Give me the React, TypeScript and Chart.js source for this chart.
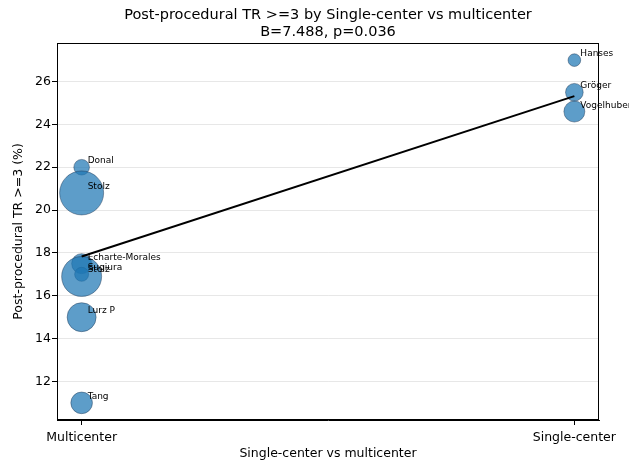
import React, { useEffect, useRef } from "react";
import { Chart, registerables } from "chart.js";

Chart.register(...registerables);

const TITLE_LINES = ["Post-procedural TR >=3 by Single-center vs multicenter", "B=7.488, p=0.036"];
const X_LABEL = "Single-center vs multicenter";
const Y_LABEL = "Post-procedural TR >=3 (%)";
const CATEGORIES = ["Multicenter", "Single-center"];
const STUDIES = ["Donal", "Stolz", "Echarte-Morales", "Sugiura", "Stolz", "Lurz P", "Tang", "Hanses", "Gröger", "Vogelhuber"];
const GROUP = [0, 0, 0, 0, 0, 0, 0, 1, 1, 1];
const TR_VALUES = [22.0, 20.8, 17.5, 17.0, 16.9, 15.0, 11.0, 27.0, 25.5, 24.6];
// relative study weight (bubble area)
const WEIGHTS = [61, 484, 100, 49, 400, 210, 117, 40, 78, 110];
const SLOPE = 7.488;
const INTERCEPT = 17.83;
const Y_TICKS = [12, 14, 16, 18, 20, 22, 24, 26];
const X_TICKS = [0, 1];

const FONT = '"DejaVu Sans", sans-serif';

export default function App() {
  const ref = useRef<HTMLCanvasElement | null>(null);

  useEffect(() => {
    document.body.style.margin = "0";
    const canvas = ref.current;
    if (!canvas) return;

    const labelsPlugin = {
      id: "studyLabels",
      afterDatasetsDraw(chart: any) {
        const ctx = chart.ctx;
        const a = chart.chartArea;
        ctx.save();
        ctx.strokeStyle = "#000";
        ctx.lineWidth = 1;
        ctx.strokeRect(a.left + 0.5, a.top + 0.5, a.right - a.left - 1, a.bottom - a.top - 1);
        const meta = chart.getDatasetMeta(1);
        ctx.fillStyle = "#000";
        ctx.font = `9px ${FONT}`;
        ctx.textAlign = "left";
        ctx.textBaseline = "alphabetic";
        meta.data.forEach((el: any, i: number) => {
          ctx.fillText(STUDIES[i], el.x + 6, el.y - 4);
        });
        ctx.restore();
      },
      afterDraw(chart: any) {
        const ctx = chart.ctx;
        const a = chart.chartArea;
        ctx.save();
        ctx.fillStyle = "#000";
        ctx.font = `14.5px ${FONT}`;
        ctx.textAlign = "center";
        ctx.textBaseline = "alphabetic";
        const cx = (a.left + a.right) / 2;
        ctx.fillText(TITLE_LINES[0], cx, 19);
        ctx.fillText(TITLE_LINES[1], cx, 35.5);
        ctx.restore();
      },
    };

    const chart = new Chart(canvas, {
      type: "bubble",
      data: {
        datasets: [
          {
            type: "line",
            data: X_TICKS.map((x) => ({ x, y: INTERCEPT + SLOPE * x })),
            borderColor: "#000",
            borderWidth: 2,
            pointRadius: 0,
            tension: 0,
            fill: false,
          } as any,
          {
            type: "bubble",
            data: STUDIES.map((_, i) => ({ x: GROUP[i], y: TR_VALUES[i], r: Math.sqrt(WEIGHTS[i]) })),
            backgroundColor: "rgba(31,119,180,0.72)",
            borderColor: "rgba(20,40,70,0.6)",
            borderWidth: 0.7,
            hoverRadius: 0,
          } as any,
        ],
      },
      options: {
        responsive: false,
        animation: false,
        devicePixelRatio: 1,
        layout: { padding: { top: 43, right: 30, left: 0, bottom: 0 } },
        plugins: {
          legend: { display: false },
          tooltip: { enabled: false },
          title: { display: false },
        },
        scales: {
          x: {
            type: "linear",
            min: -0.05,
            max: 1.05,
            afterBuildTicks: (scale: any) => {
              scale.ticks = X_TICKS.map((v) => ({ value: v }));
            },
            afterFit: (scale: any) => {
              scale.height = 44;
            },
            ticks: {
              callback: (v: any) => CATEGORIES[v] ?? "",
              color: "#000",
              font: { family: FONT, size: 12.5 },
              padding: 5,
              maxRotation: 0,
            },
            grid: { drawOnChartArea: false, tickLength: 5, tickColor: "#000" },
            border: { display: true, color: "#000", width: 1 },
            title: {
              display: true,
              text: X_LABEL,
              color: "#000",
              font: { family: FONT, size: 12.5 },
              padding: { top: 0, bottom: 2.5 },
            },
          },
          y: {
            type: "linear",
            min: 10.2,
            max: 27.8,
            afterBuildTicks: (scale: any) => {
              scale.ticks = Y_TICKS.map((v) => ({ value: v }));
            },
            afterFit: (scale: any) => {
              scale.width = 57;
            },
            ticks: {
              color: "#000",
              font: { family: FONT, size: 12.5 },
              padding: 1,
            },
            grid: {
              color: "rgba(176,176,176,0.3)",
              lineWidth: 1,
              tickLength: 5,
              tickColor: "#000",
            },
            border: { display: true, color: "#000", width: 1 },
            title: {
              display: true,
              text: Y_LABEL,
              color: "#000",
              font: { family: FONT, size: 12.5 },
              padding: { top: 11, bottom: 0 },
            },
          },
        },
      } as any,
      plugins: [labelsPlugin],
    });

    return () => chart.destroy();
  }, []);

  return (
    <div style={{ position: "absolute", left: 0, top: 0, width: 629, height: 464, background: "#fff" }}>
      <canvas ref={ref} width={629} height={464} style={{ display: "block" }} />
    </div>
  );
}
